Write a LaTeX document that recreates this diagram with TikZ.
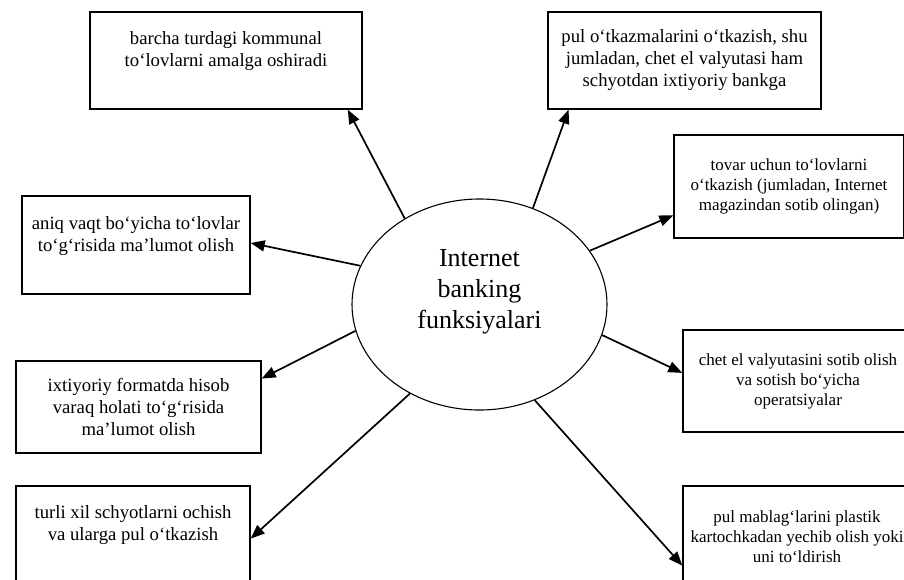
\documentclass[tikz,border=0pt]{standalone}
\usepackage{fontspec}
\setmainfont{Liberation Serif}
\usetikzlibrary{arrows.meta,shapes.geometric}
\tikzset{
  fbox/.style={draw, line width=1.4pt, align=center, inner sep=0pt,
    font=\fontsize{18.7}{22}\selectfont},
  rbox/.style={fbox, font=\fontsize{17}{20}\selectfont},
  fline/.style={line width=1.7pt, -{Triangle[length=14pt,width=11pt]}}
}
\begin{document}
\begin{tikzpicture}[x=1pt, y=-1pt]
		%%%%% START %%%%%
		\useasboundingbox (0,0) rectangle (904,579);
		
		\node[ellipse, draw, line width=1.1pt, minimum width=255pt, minimum height=211pt,
		  inner sep=0pt, align=center, font=\fontsize{26}{31}\selectfont] (ib) at (479.5,304.5)
		  {Internet\\banking\\funksiyalari\\ ~};
		
		% left side
		\node[fbox, minimum width=272pt, minimum height=97pt] (kommunal) at (226,60.5)
		  {barcha turdagi kommunal\\to‘lovlarni amalga oshiradi\\ ~};
		\node[fbox, minimum width=228pt, minimum height=98pt] (vaqt) at (136,245)
		  {aniq vaqt bo‘yicha to‘lovlar\\to‘g‘risida ma’lumot olish\\ ~};
		\node[fbox, minimum width=245pt, minimum height=92pt] (hisob) at (138.5,407)
		  {ixtiyoriy formatda hisob\\varaq holati to‘g‘risida\\ma’lumot olish};
		\node[fbox, minimum width=234pt, minimum height=97pt] (schyot) at (133,534.5)
		  {turli xil schyotlarni ochish\\va ularga pul o‘tkazish\\ ~};
		
		% right side
		\node[fbox, minimum width=273pt, minimum height=97pt] (otkazma) at (684.5,60.5)
		  {pul o‘tkazmalarini o‘tkazish, shu\\jumladan, chet el valyutasi ham\\schyotdan ixtiyoriy bankga};
		\node[rbox, minimum width=230pt, minimum height=103pt] (tovar) at (789,186.5)
		  {tovar uchun to‘lovlarni\\o‘tkazish (jumladan, Internet\\magazindan sotib olingan)};
		\node[rbox, minimum width=230pt, minimum height=102pt] (valyuta) at (798,381)
		  {chet el valyutasini sotib olish\\va sotish bo‘yicha\\operatsiyalar};
		\node[rbox, minimum width=228pt, minimum height=102pt] (karta) at (797,537)
		  {pul mablag‘larini plastik\\kartochkadan yechib olish yoki\\uni to‘ldirish};
		
		\draw[fline] (ib.131.9) -- (kommunal.-22.9);
		\draw[fline] (ib.162.3) -- (vaqt.1.5);
		\draw[fline] (ib.192.9) -- (hisob.13.2);
		\draw[fline] (ib.232.2) -- (schyot.-2.6);
		\draw[fline] (ib.61) -- (otkazma.203.4);
		\draw[fline] (ib.26.7) -- (tovar.194.3);
		\draw[fline] (ib.-14.3) -- (valyuta.176);
		\draw[fline] (ib.-60.3) -- (karta.194.7);
		
		%%%%% END %%%%%
\end{tikzpicture}
\end{document}
